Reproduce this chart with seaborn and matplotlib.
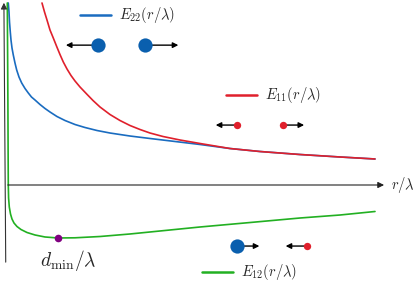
import numpy as np
import pandas as pd
import matplotlib
matplotlib.use('Agg')
import matplotlib.pyplot as plt
import seaborn as sns

# curve values (r/lambda, energy)
r_22 = [0.089, 0.108, 0.122, 0.143, 0.162, 0.189, 0.224, 0.270, 0.316, 0.378,
        0.451, 0.541, 0.630, 0.716, 0.811, 0.946, 1.081, 1.216, 1.405, 1.622,
        1.892, 2.162, 2.486, 2.838, 3.378, 3.919, 4.595, 5.270, 6.081, 6.892,
        7.973, 9.054, 10.0]
e_22 = [4.919, 4.676, 4.405, 4.135, 3.919, 3.703, 3.514, 3.297, 3.108, 2.919,
        2.757, 2.608, 2.486, 2.378, 2.297, 2.176, 2.068, 1.973, 1.851, 1.743,
        1.635, 1.554, 1.473, 1.405, 1.324, 1.257, 1.176, 1.095, 0.986, 0.905,
        0.824, 0.757, 0.703]

r_11 = [1.0, 1.068, 1.135, 1.216, 1.305, 1.397, 1.486, 1.576, 1.676, 1.784,
        1.892, 2.027, 2.208, 2.378, 2.568, 2.838, 3.108, 3.378, 3.649, 3.919,
        4.270, 4.730, 5.270, 6.081, 6.892, 7.973, 9.054, 10.0]
e_11 = [4.919, 4.676, 4.459, 4.189, 3.973, 3.743, 3.527, 3.324, 3.135, 2.959,
        2.811, 2.649, 2.459, 2.284, 2.108, 1.905, 1.743, 1.608, 1.500, 1.405,
        1.311, 1.216, 1.122, 0.986, 0.905, 0.824, 0.757, 0.703]

r_12 = [0.062, 0.070, 0.078, 0.084, 0.089, 0.097, 0.116, 0.149, 0.189, 0.243,
        0.324, 0.432, 0.595, 0.811, 1.081, 1.432, 1.892, 2.568, 3.378, 4.189,
        5.270, 6.622, 7.973, 9.054, 10.0]
e_12 = [4.919, 3.649, 2.297, 0.946, 0.0, -0.351, -0.595, -0.784, -0.919, -1.027,
        -1.122, -1.203, -1.284, -1.351, -1.405, -1.432, -1.427, -1.392, -1.324, -1.243,
        -1.135, -1.014, -0.892, -0.811, -0.716]

c_blue = '#1a6cc0'
c_red = '#e0202c'
c_green = '#22b022'
c_dot_blue = '#0a5fae'

sns.set_style('white')
plt.rcParams['mathtext.fontset'] = 'cm'

fig = plt.figure(figsize=(4.15, 2.84), dpi=100)
ax = fig.add_axes([0, 0, 1, 1])
ax.set_xlim(-5 / 37, 410 / 37)
ax.set_ylim(-99 / 37, 185 / 37)
ax.axis('off')

# axes with arrows
ax.annotate('', xy=(10.32, 0), xytext=(0, 0),
            arrowprops=dict(arrowstyle='-|>', color='#222222', lw=0.8, mutation_scale=9))
ax.annotate('', xy=(-0.03, 5.0), xytext=(0.02, -2.16),
            arrowprops=dict(arrowstyle='-|>', color='#333333', lw=0.8, mutation_scale=9))
ax.text(10.42, 0, r'$r/\lambda$', fontsize=10.5, va='center', ha='left')

# curves
sns.lineplot(x=r_22, y=e_22, color=c_blue, lw=1.2, estimator=None, sort=False, ax=ax)
sns.lineplot(x=r_12, y=e_12, color=c_green, lw=1.2, estimator=None, sort=False, ax=ax)
sns.lineplot(x=r_11, y=e_11, color=c_red, lw=1.2, estimator=None, sort=False, ax=ax)

# minimum of E12
i_min = int(np.argmin(e_12))
ax.scatter([r_12[i_min]], [e_12[i_min]], s=30, color='#800080', zorder=5, lw=0)
ax.text(1.72, -2.03, r'$d_{\min}/\lambda$', fontsize=14, ha='center', va='center')

# legend-like labels
def legend_item(x0, y, color, label):
    ax.plot([x0, x0 + 0.84], [y, y], color=color, lw=1.8)
    ax.text(x0 + 1.05, y, label, fontsize=10.5, va='center', ha='left')

legend_item(2.03, 4.59, c_blue, r'$E_{22}(r/\lambda)$')
legend_item(5.97, 2.43, c_red, r'$E_{11}(r/\lambda)$')
legend_item(5.32, -2.35, c_green, r'$E_{12}(r/\lambda)$')

# particle sketches
def particle(x, y, x_to, color, size):
    ax.annotate('', xy=(x_to, y), xytext=(x, y),
                arrowprops=dict(arrowstyle='-|>', color='black', lw=1.0, mutation_scale=8))
    ax.scatter([x], [y], s=size, color=color, zorder=6, lw=0)

particle(2.51, 3.78, 1.57, c_dot_blue, 105)
particle(3.78, 3.78, 4.76, c_dot_blue, 105)
particle(6.27, 1.62, 5.62, c_red, 28)
particle(7.51, 1.62, 8.16, c_red, 28)
particle(6.27, -1.65, 6.95, c_dot_blue, 105)
particle(8.16, -1.65, 7.51, c_red, 28)

fig.savefig('out.png', dpi=100)
